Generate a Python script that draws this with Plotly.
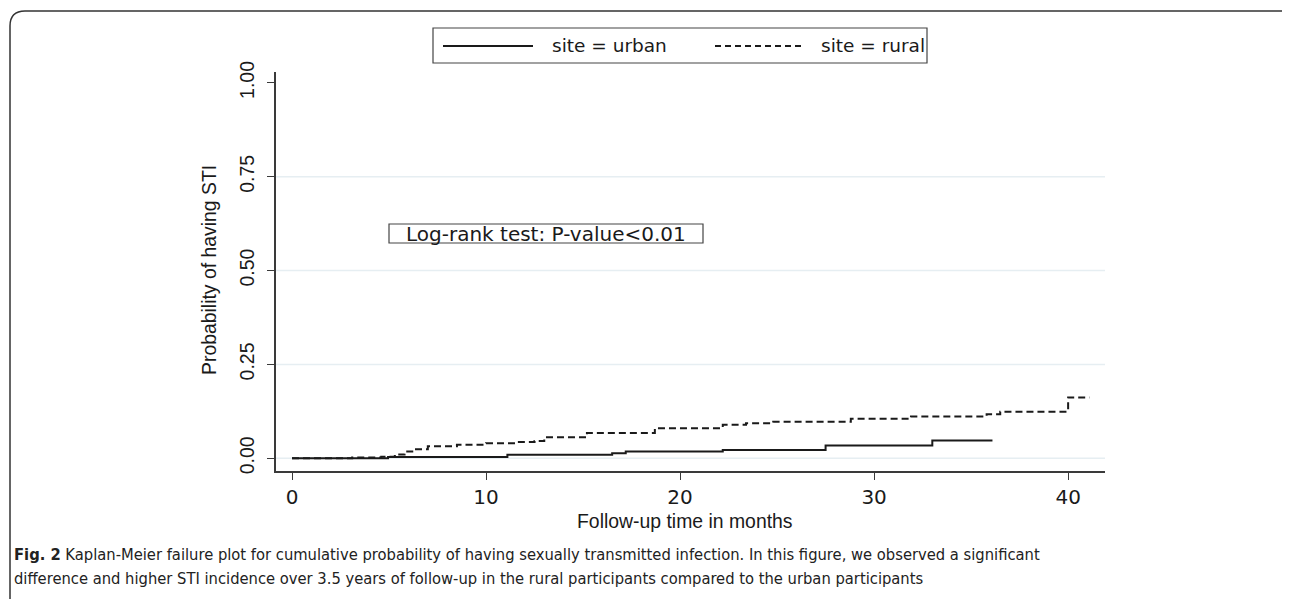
import plotly.graph_objects as go

# ---------------- data ----------------
urban_time = [0, 4.95, 11.1, 16.5, 17.2, 22.2, 27.5, 33.0, 36.1]
urban_prob = [0, 0.003, 0.009, 0.013, 0.018, 0.022, 0.034, 0.047, 0.047]

rural_time = [0, 3.1, 4.6, 5.3, 5.8, 6.3, 7.0, 8.5, 10.0, 11.5, 12.5, 13.0,
              15.2, 18.7, 22.2, 23.4, 24.8, 28.8, 31.9, 35.8, 36.5, 40.0, 41.1]
rural_prob = [0, 0.002, 0.004, 0.010, 0.018, 0.024, 0.032, 0.036, 0.040, 0.043, 0.046, 0.056,
              0.067, 0.080, 0.089, 0.093, 0.097, 0.105, 0.111, 0.117, 0.124, 0.162, 0.162]

x_ticks = [0, 10, 20, 30, 40]
y_ticks = [0, 0.25, 0.5, 0.75, 1.0]
y_tick_labels = ["0.00", "0.25", "0.50", "0.75", "1.00"]
grid_vals = [0, 0.25, 0.5, 0.75]

series_names = ["site = urban", "site = rural"]
annotation_text = "Log-rank test: P-value<0.01"
x_title = "Follow-up time in months"
y_title = "Probability of having STI"
caption_line1 = ("<b>Fig. 2</b> Kaplan-Meier failure plot for cumulative probability of having "
                 "sexually transmitted infection. In this figure, we observed a significant")
caption_line2 = ("difference and higher STI incidence over 3.5 years of follow-up in the rural "
                 "participants compared to the urban participants")

# ---------------- layout geometry (screen pixels, page has 8px body margin) ----------------
OFF = 8
W, H = 1290 - OFF, 599 - OFF
L, R, T, B = 276 - OFF, 185, 72 - OFF, 128
PW, PH = W - L - R, H - T - B


def px(x):
    return (x - OFF - L) / PW


def py(y):
    return (H - B - (y - OFF)) / PH


FONT = "DejaVu Sans"
TITLE_FONT = "Liberation Sans, Arial"
INK = "#1a1a1a"
AX = "#3a3a3a"
CAP_FONT = "DejaVu Sans Condensed, Liberation Sans Narrow, Open Sans"

fig = go.Figure()
fig.add_trace(go.Scatter(x=urban_time, y=urban_prob, mode="lines", name=series_names[0],
                         line=dict(color=INK, width=2, shape="hv"), showlegend=False))
fig.add_trace(go.Scatter(x=rural_time, y=rural_prob, mode="lines", name=series_names[1],
                         line=dict(color=INK, width=2, shape="hv", dash="7px,4px"),
                         showlegend=False))

shapes = []
for g in grid_vals:
    shapes.append(dict(type="line", xref="paper", yref="y", x0=0, x1=1, y0=g, y1=g,
                       line=dict(color="#e6eef2", width=1.5), layer="below"))
frame = (f"M {px(10)},{py(640)} L {px(10)},{py(26)} Q {px(10)},{py(11)} {px(25)},{py(11)} "
         f"L {px(1281)},{py(11)} Q {px(1286)},{py(11)} {px(1286)},{py(16)} L {px(1286)},{py(640)}")
shapes.append(dict(type="path", xref="paper", yref="paper", path=frame,
                   line=dict(color="#333333", width=1.5)))
shapes.append(dict(type="rect", xref="paper", yref="paper", x0=px(433), x1=px(927),
                   y0=py(63), y1=py(28), line=dict(color="#444444", width=1.2)))
shapes.append(dict(type="line", xref="paper", yref="paper", x0=px(443), x1=px(533),
                   y0=py(46), y1=py(46), line=dict(color=INK, width=2)))
shapes.append(dict(type="line", xref="paper", yref="paper", x0=px(715), x1=px(803),
                   y0=py(46), y1=py(46), line=dict(color=INK, width=2, dash="6px,4px")))
shapes.append(dict(type="rect", xref="paper", yref="paper", x0=px(389), x1=px(703),
                   y0=py(243), y1=py(224), line=dict(color="#444444", width=1.2)))

annotations = [
    dict(text=series_names[0], xref="paper", yref="paper", x=px(550), y=py(46),
         xanchor="left", yanchor="middle", showarrow=False, font=dict(family=FONT, size=18.5, color=INK)),
    dict(text=series_names[1], xref="paper", yref="paper", x=px(819), y=py(46),
         xanchor="left", yanchor="middle", showarrow=False, font=dict(family=FONT, size=18.5, color=INK)),
    dict(text=annotation_text, xref="paper", yref="paper", x=px(546), y=py(233.5),
         xanchor="center", yanchor="middle", showarrow=False, font=dict(family=FONT, size=20, color=INK)),
    dict(text=y_title, xref="paper", yref="paper", x=px(209), y=py(270), textangle=-90,
         xanchor="center", yanchor="middle", showarrow=False,
         font=dict(family=TITLE_FONT, size=19.4, color=INK)),
    dict(text=x_title, xref="paper", yref="paper", x=px(685), y=py(521),
         xanchor="center", yanchor="middle", showarrow=False,
         font=dict(family=TITLE_FONT, size=19.4, color=INK)),
    dict(text=caption_line1, xref="paper", yref="paper", x=px(12), y=py(554),
         xanchor="left", yanchor="middle", showarrow=False,
         font=dict(family=CAP_FONT, size=16.4, color="#222222")),
    dict(text=caption_line2, xref="paper", yref="paper", x=px(12), y=py(578),
         xanchor="left", yanchor="middle", showarrow=False,
         font=dict(family=CAP_FONT, size=16.4, color="#222222")),
]

fig.update_layout(
    width=W, height=H,
    margin=dict(l=L, r=R, t=T, b=B, pad=0),
    paper_bgcolor="white", plot_bgcolor="white",
    showlegend=False,
    shapes=shapes, annotations=annotations,
    xaxis=dict(range=[-0.825, 41.9], tickvals=x_ticks, showgrid=False, zeroline=False,
               showline=True, linecolor=AX, linewidth=1.5, ticks="outside", ticklen=7,
               tickcolor=AX, tickwidth=1.2, tickfont=dict(family=FONT, size=20, color=INK)),
    yaxis=dict(range=[-0.034, 1.029], tickvals=y_ticks, ticktext=y_tick_labels, tickangle=-90,
               showgrid=False, zeroline=False, showline=True, linecolor=AX, linewidth=1.5,
               ticks="outside", ticklen=7, tickcolor=AX, tickwidth=1.2, ticklabelstandoff=5,
               tickfont=dict(family=TITLE_FONT, size=19.5, color=INK)),
)

fig.write_html("out.html")
